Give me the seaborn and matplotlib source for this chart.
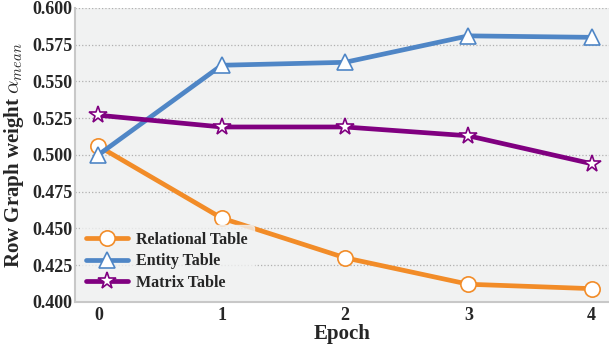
import matplotlib
matplotlib.use("Agg")
import matplotlib.pyplot as plt
import seaborn as sns
import pandas as pd

# data
epochs = [0, 1, 2, 3, 4]
relational = [0.506, 0.457, 0.430, 0.412, 0.409]
entity = [0.500, 0.561, 0.563, 0.581, 0.580]
matrix = [0.527, 0.519, 0.519, 0.513, 0.494]

series_names = ["Relational Table", "Entity Table", "Matrix Table"]
series_values = [relational, entity, matrix]
colors = ["#f28c28", "#4f86c6", "#800080"]
markers = ["o", "^", "*"]
marker_sizes = [11, 11, 13]

sns.set_theme(style="whitegrid")
plt.rcParams["font.family"] = ["Liberation Serif", "DejaVu Serif"]
plt.rcParams["mathtext.fontset"] = "cm"

fig, ax = plt.subplots(figsize=(6.09, 3.45), dpi=100)
ax.set_facecolor("#f1f2f2")

for name, vals, c, m, ms in zip(series_names, series_values, colors, markers, marker_sizes):
    df = pd.DataFrame({"Epoch": epochs, "value": vals})
    sns.lineplot(data=df, x="Epoch", y="value", ax=ax, color=c, linewidth=3.4,
                 marker=m, markersize=ms, markerfacecolor="white",
                 markeredgecolor=c, markeredgewidth=1.2, label=name)

ax.set_xlim(-0.19, 4.14)
ax.set_ylim(0.400, 0.600)
ax.set_xticks(epochs)
ax.set_yticks([0.400, 0.425, 0.450, 0.475, 0.500, 0.525, 0.550, 0.575, 0.600])
ax.set_yticklabels([f"{v:.3f}" for v in ax.get_yticks()])

ax.grid(axis="y", color="#b0b0b0", linestyle=":", linewidth=0.9)
ax.grid(axis="x", visible=False)
for side in ["top", "right"]:
    ax.spines[side].set_visible(False)
for side in ["left", "bottom"]:
    ax.spines[side].set_color("#c8c8c8")
    ax.spines[side].set_linewidth(1.5)

ax.tick_params(axis="x", length=3, width=1, color="#555555", labelsize=13, pad=1)
ax.tick_params(axis="y", length=0, labelsize=13, pad=2)
for lbl in ax.get_xticklabels() + ax.get_yticklabels():
    lbl.set_fontweight("bold")

ax.set_xlabel("Epoch", fontsize=15, fontweight="bold", labelpad=0)
ax.set_ylabel(r"Row Graph weight $\alpha_{mean}$", fontsize=15, fontweight="bold", labelpad=4)

leg = ax.legend(loc="lower left", fontsize=11.5, frameon=True, handlelength=2.6,
                handletextpad=0.5, borderaxespad=0.3, labelspacing=0.35,
                prop={"weight": "bold", "size": 11.5})
leg.get_frame().set_facecolor("#f1f2f2")
leg.get_frame().set_edgecolor("#f1f2f2")

fig.subplots_adjust(left=0.123, right=1.0, top=0.977, bottom=0.125)
fig.savefig("out.png", dpi=100)
